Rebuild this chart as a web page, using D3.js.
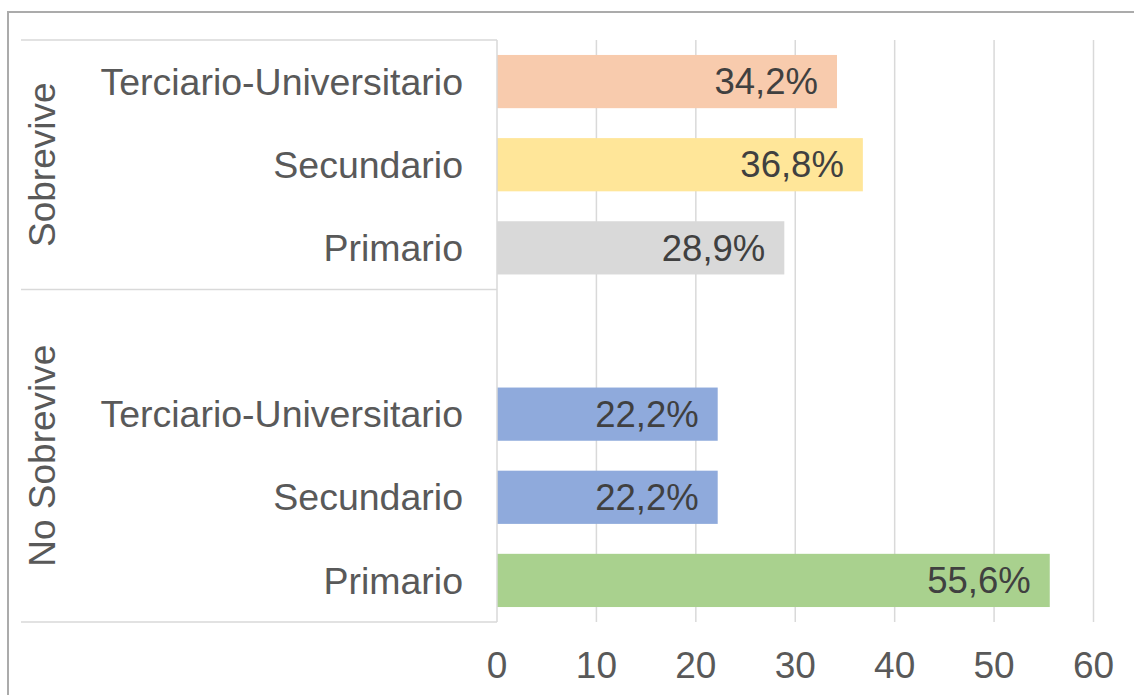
<!DOCTYPE html>
<html>
<head>
<meta charset="utf-8">
<script src="https://cdn.jsdelivr.net/npm/d3@7"></script>
<style>
  body { margin: 0; background: #fff; }
  text { font-family: "Liberation Sans", Arial, sans-serif; }
</style>
</head>
<body>
<div id="vis"></div>
<script>
const width = 1134;
const height = 695;

const groups = ["Sobrevive", "No Sobrevive"];
const levels = ["Terciario-Universitario", "Secundario", "Primario"];
const sobreviveValues = [34.2, 36.8, 28.9];
const noSobreviveValues = [22.2, 22.2, 55.6];
const xTicks = [0, 10, 20, 30, 40, 50, 60];

const sobreviveColors = ["#F8CBAD", "#FFE699", "#D9D9D9"];
const noSobreviveColors = ["#8FAADC", "#8FAADC", "#A9D18E"];

// rows top to bottom, with an empty slot heading the second group
let rows = [];
levels.forEach((l, i) => rows.push({ key: "S" + i, group: groups[0], label: l, value: sobreviveValues[i], color: sobreviveColors[i] }));
rows.push({ key: "gap", group: groups[1], label: "", value: null });
levels.forEach((l, i) => rows.push({ key: "N" + i, group: groups[1], label: l, value: noSobreviveValues[i], color: noSobreviveColors[i] }));

const plot = { left: 497, right: 1093.5, top: 40, bottom: 622 };

const svg = d3.select("#vis").append("svg")
    .attr("width", width)
    .attr("height", height);

// outer chart border (cropped on right and bottom)
svg.append("rect")
    .attr("x", 8).attr("y", 12)
    .attr("width", 1140).attr("height", 700)
    .attr("fill", "none")
    .attr("stroke", "#ABABAB")
    .attr("stroke-width", 2);

let x = d3.scaleLinear()
    .domain([0, 60])
    .range([plot.left, plot.right]);

let y = d3.scaleBand()
    .domain(rows.map(d => d.key))
    .range([plot.top, plot.bottom])
    .paddingInner(0.36)
    .paddingOuter(0.18);

// gridlines
svg.append("g")
    .selectAll("line")
    .data(xTicks.slice(1))
    .enter().append("line")
    .attr("x1", d => x(d)).attr("x2", d => x(d))
    .attr("y1", plot.top).attr("y2", plot.bottom)
    .attr("stroke", "#D9D9D9")
    .attr("stroke-width", 1.5);

// x tick labels
svg.append("g")
    .selectAll("text")
    .data(xTicks)
    .enter().append("text")
    .attr("x", d => x(d))
    .attr("y", 678)
    .attr("text-anchor", "middle")
    .attr("fill", "#595959")
    .style("font-size", "37px")
    .text(d => d);

// bars
let bars = rows.filter(d => d.value !== null);
svg.append("g")
    .selectAll("rect")
    .data(bars)
    .enter().append("rect")
    .attr("x", x(0))
    .attr("y", d => y(d.key))
    .attr("width", d => x(d.value) - x(0))
    .attr("height", y.bandwidth())
    .attr("fill", d => d.color);

// data labels
svg.append("g")
    .selectAll("text")
    .data(bars)
    .enter().append("text")
    .attr("x", d => x(d.value) - 19)
    .attr("y", d => y(d.key) + y.bandwidth() / 2)
    .attr("dy", "0.35em")
    .attr("text-anchor", "end")
    .attr("fill", "#404040")
    .style("font-size", "36.5px")
    .text(d => d.value.toFixed(1).replace(".", ",") + "%");

// category axis lines
let step = y.step();
let groupEdges = [plot.top, plot.top + step * 3, plot.bottom];
svg.append("g")
    .selectAll("line")
    .data(groupEdges)
    .enter().append("line")
    .attr("x1", 21).attr("x2", plot.left)
    .attr("y1", d => d).attr("y2", d => d)
    .attr("stroke", "#D9D9D9")
    .attr("stroke-width", 1.5);

svg.append("line")
    .attr("x1", plot.left).attr("x2", plot.left)
    .attr("y1", plot.top).attr("y2", plot.bottom)
    .attr("stroke", "#D9D9D9")
    .attr("stroke-width", 1.5);

// category labels
svg.append("g")
    .selectAll("text")
    .data(rows.filter(d => d.label))
    .enter().append("text")
    .attr("x", 463)
    .attr("y", d => y(d.key) + y.bandwidth() / 2)
    .attr("dy", "0.35em")
    .attr("text-anchor", "end")
    .attr("fill", "#595959")
    .style("font-size", "37.5px")
    .text(d => d.label);

// group labels
svg.append("g")
    .selectAll("text")
    .data(groups)
    .enter().append("text")
    .attr("transform", (d, i) => `translate(55,${(groupEdges[i] + groupEdges[i + 1]) / 2}) rotate(-90)`)
    .attr("text-anchor", "middle")
    .attr("fill", "#595959")
    .style("font-size", "37px")
    .text(d => d);
</script>
</body>
</html>
